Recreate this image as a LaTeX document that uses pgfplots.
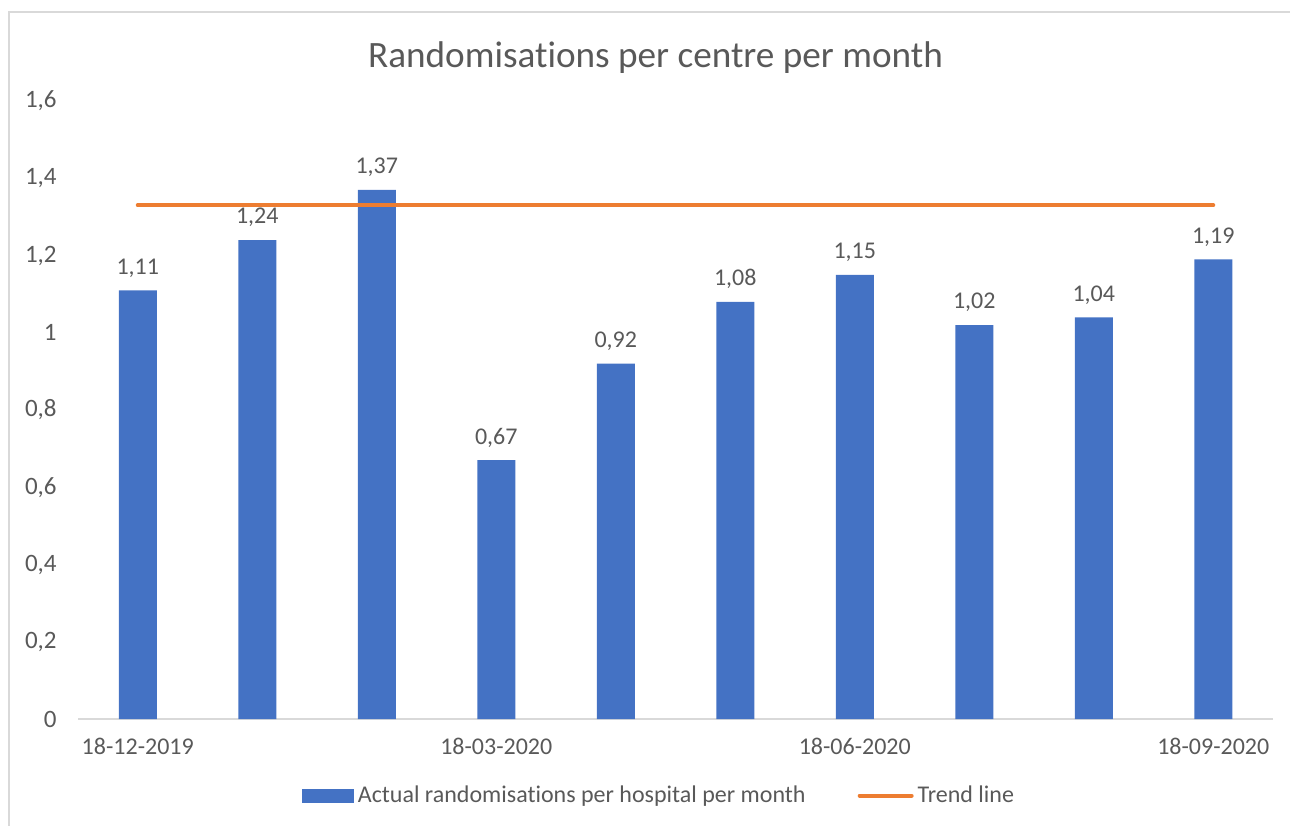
\documentclass[border=0pt]{standalone}
\usepackage{pgfplots}
\pgfplotsset{compat=1.18}
\usepackage{fontspec}
\setmainfont{Carlito}[Ligatures={NoCommon}]
\definecolor{txt}{HTML}{595959}
\definecolor{gridc}{HTML}{D9D9D9}
\definecolor{barblue}{HTML}{4472C4}
\definecolor{trendor}{HTML}{ED7D31}
\begin{document}
\begin{tikzpicture}[x=1pt,y=1pt]
\useasboundingbox (0,0) rectangle (645,412.5);
\draw[gridc, line width=0.8pt] (4.5,-10) rectangle (660,406.5);
\node[txt, font=\fontsize{18.6}{22}\selectfont] at (327.75,383.5) {Randomisations per centre per month};
\begin{axis}[
  at={(39pt,53pt)}, anchor=south west,
  scale only axis, width=597.5pt, height=309pt,
  xmin=-0.5, xmax=9.5, ymin=0, ymax=1.6,
  ytick={0,0.2,...,1.6},
  xtick={0,3,6,9},
  xticklabels={18-12-2019,18-03-2020,18-06-2020,18-09-2020},
  axis line style={draw=none},
  x axis line style={draw=gridc, line width=0.8pt},
  axis x line*=bottom,
  axis y line=none,
  ymajorgrids, grid style={gridc, line width=0.8pt},
  major tick length=0pt,
  tick label style={txt, font=\fontsize{12}{14}\selectfont},
  /pgf/number format/.cd, use comma, assume math mode=true,
  /pgfplots/.cd,
  xticklabel style={yshift=-6pt},
  legend style={at={(0.487,-0.124)}, anchor=center, draw=none, fill=none,
     font=\fontsize{12}{14}\selectfont, text=txt, legend columns=2,
     /tikz/every even column/.append style={column sep=24pt}},
  clip=false,
]
\pgfplotsinvokeforeach{0,0.2,0.4,0.6,0.8,1,1.2,1.4,1.6}{
  \node[txt, font=\fontsize{12.5}{14}\selectfont, anchor=east, inner sep=0pt] at (axis cs:-0.5,#1) [xshift=-10.5pt] {\pgfmathprintnumber[use comma]{#1}};
}
\addplot[ybar, bar width=19pt, fill=barblue, draw=none,
  nodes near coords,
  nodes near coords style={txt, font=\fontsize{12}{14}\selectfont, yshift=3pt,
     /pgf/number format/.cd, fixed, fixed zerofill, precision=2, use comma, assume math mode=true},
  legend image code/.code={\fill[barblue] (0pt,-3.5pt) rectangle (26pt,3.5pt);}
] coordinates {
(0,1.11) (1,1.24) (2,1.37) (3,0.67) (4,0.92) (5,1.08) (6,1.15) (7,1.02) (8,1.04) (9,1.19)
};
\addlegendentry{Actual randomisations per hospital per month}
\addplot[trendor, line width=2pt, line cap=round, mark=none,
  legend image code/.code={\draw[trendor, line width=2pt, line cap=round] (0pt,0pt) -- (26pt,0pt);}
] coordinates {(0,1.33) (9,1.33)};
\addlegendentry{Trend line}
\end{axis}
\end{tikzpicture}
\end{document}
